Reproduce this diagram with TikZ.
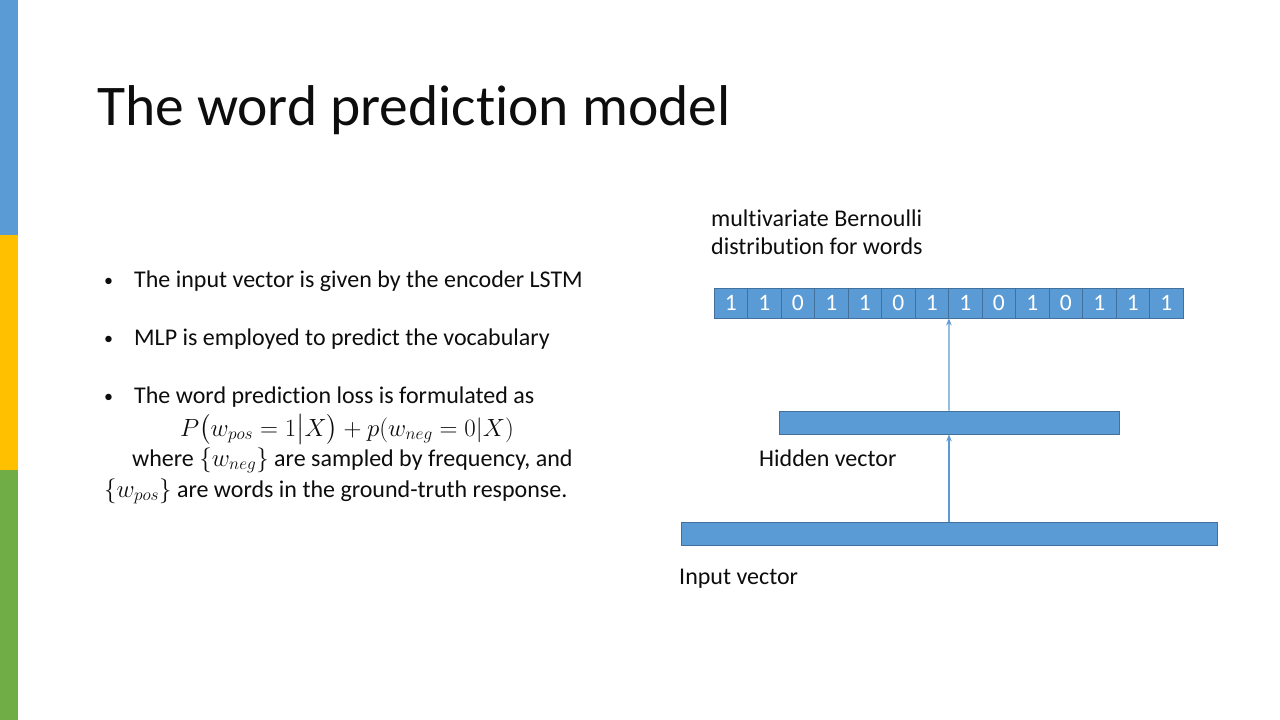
\documentclass[tikz,border=0pt]{standalone}
\usepackage{amsmath}
\usepackage{fontspec}
\setmainfont{Carlito}[RawFeature={-liga}]
\usetikzlibrary{arrows.meta}
\definecolor{sblue}{HTML}{5B9BD5}
\definecolor{sborder}{HTML}{41719C}
\definecolor{syellow}{HTML}{FFC000}
\definecolor{sgreen}{HTML}{70AD47}
\definecolor{stext}{HTML}{0D0D0D}
\tikzset{
  bar/.style={fill=sblue, draw=sborder, line width=0.8pt, inner sep=0pt},
  bitcell/.style={bar, minimum width=33.5pt, minimum height=30pt, text=white, font=\fontsize{23.5}{26}\selectfont},
  body/.style={anchor=base west, inner sep=0pt, text=stext, font=\fontsize{24}{29}\selectfont},
  arr/.style={draw=sblue, line width=1.2pt, -{Stealth[length=7pt,width=5.5pt]}}
}
\begin{document}
\begin{tikzpicture}[x=1pt,y=-1pt]
\useasboundingbox (0,0) rectangle (1280,720);
\fill[white] (0,0) rectangle (1280,720);
% side bar
\fill[sblue] (0,0) rectangle (18,235);
\fill[syellow] (0,235) rectangle (18,470);
\fill[sgreen] (0,470) rectangle (18,720);
% title
\node[anchor=base west, inner sep=0pt, text=stext, font=\fontsize{57.5}{68}\selectfont] (title) at (97,125) {The word prediction model};
% bullets
\node[body, font=\fontsize{18}{20}\selectfont] (b1dot) at (104,286) {•};
\node[body] (b1) at (134,287) {The input vector is given by the encoder LSTM};
\node[body, font=\fontsize{18}{20}\selectfont] (b2dot) at (104,344) {•};
\node[body] (b2) at (134,345) {MLP is employed to predict the vocabulary};
\node[body, font=\fontsize{18}{20}\selectfont] (b3dot) at (104,402) {•};
\node[body] (b3) at (134,403) {The word prediction loss is formulated as};
\node[body, anchor=base] (formula) at (347,436) {$P\bigl(w_{pos}=1\big|X\bigr)+p(w_{neg}=0|X)$};
\node[body] (w1) at (132,466) {where $\{w_{neg}\}$ are sampled by frequency, and};
\node[body] (w2) at (104,497) {$\{w_{pos}\}$ are words in the ground-truth response.};
% diagram labels
\node[body] (lab1) at (711,226) {multivariate Bernoulli};
\node[body] (lab2) at (711,254) {distribution for words};
\node[body] (hlab) at (759,466) {Hidden vector};
\node[body] (ilab) at (679,584) {Input vector};
% bit cells
\foreach \v [count=\i] in {1,1,0,1,1,0,1,1,0,1,0,1,1,1} {
  \node[bitcell] (c\i) at ({714+33.5*(\i-0.5)},303) {\v};
}
% hidden and input vectors
\node[bar, minimum width=340pt, minimum height=23pt] (hid) at (949,422.5) {};
\node[bar, minimum width=536pt, minimum height=23pt] (inp) at (949,533.5) {};
% arrows
\draw[arr] (inp.north) -- (hid.south);
\draw[arr] (hid.north) -- (c7.south east);
\end{tikzpicture}
\end{document}
